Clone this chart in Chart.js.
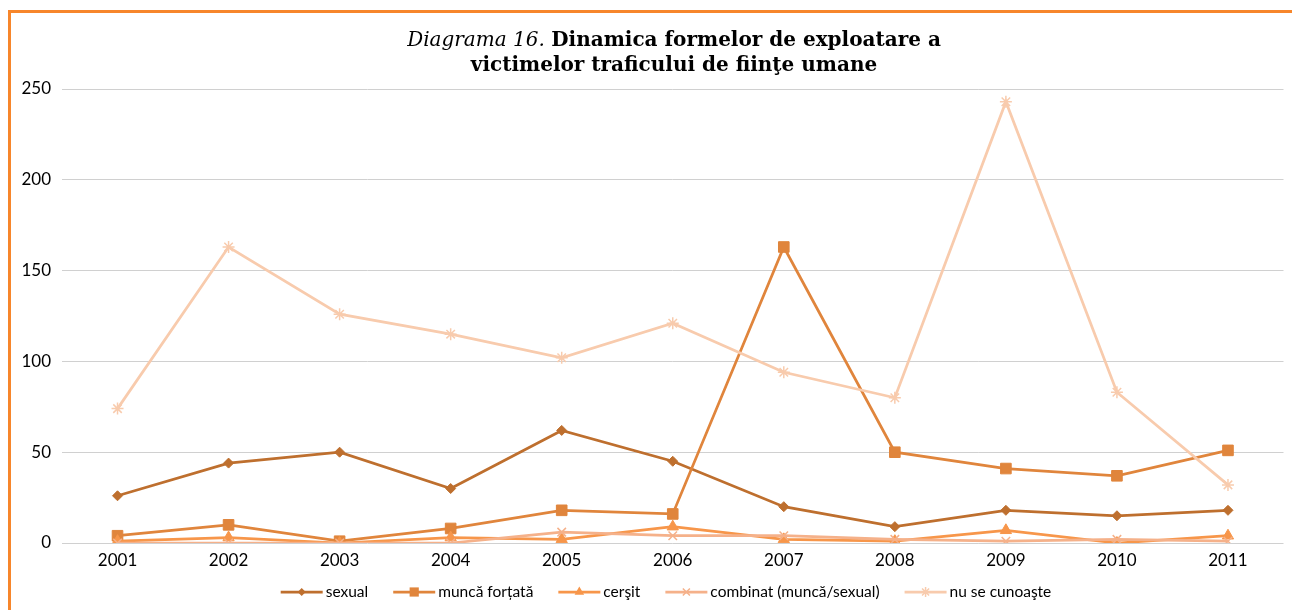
<!DOCTYPE html>
<html>
<head>
<meta charset="utf-8">
<script src="https://cdn.jsdelivr.net/npm/chart.js@4/dist/chart.umd.min.js"></script>
<style>
  body { margin: 0; background: #fff; }
  #wrap { position: relative; width: 1292px; height: 610px; overflow: hidden; }
  #frame { position: absolute; left: 8px; top: 10px; width: 1300px; height: 620px;
           border-top: 3px solid #F7862B; border-left: 3px solid #F7862B; }
  #title { position: absolute; left: 0; top: 27px; width: 1348px; text-align: center;
           font-family: "DejaVu Serif", serif; font-size: 20px; line-height: 25px; color: #000; }
  #title i { font-weight: normal; }
  #title b { font-weight: bold; }
  canvas { position: absolute; left: 0; top: 0; }
</style>
</head>
<body>
<div id="wrap">
  <div id="frame"></div>
  <canvas id="chart" width="1292" height="610"></canvas>
  <div id="title"><i>Diagrama 16.</i> <b>Dinamica formelor de exploatare a<br>victimelor traficului de fiinţe umane</b></div>
</div>
<script>
const years = ['2001','2002','2003','2004','2005','2006','2007','2008','2009','2010','2011'];
const sexual = [26, 44, 50, 30, 62, 45, 20, 9, 18, 15, 18];
const muncaFortata = [4, 10, 1, 8, 18, 16, 163, 50, 41, 37, 51];
const cersit = [1, 3, 0, 3, 2, 9, 2, 1, 7, 0, 4];
const combinat = [0, 0, 0, 0, 6, 4, 4, 2, 1, 2, 1];
const nuSeCunoaste = [74, 163, 126, 115, 102, 121, 94, 80, 243, 83, 32];
const seriesNames = ['sexual', 'muncă forțată', 'cerşit', 'combinat (muncă/sexual)', 'nu se cunoaşte'];
const yTicks = [0, 50, 100, 150, 200, 250];

const colors = ['#BE6F2E', '#E0853C', '#F7964A', '#F5B18A', '#F8CBAD'];
const markers = ['rectRot', 'rect', 'triangle', 'crossRot', 'star'];
const radii = [5, 7.5, 6.5, 6, 6];

const seriesData = [sexual, muncaFortata, cersit, combinat, nuSeCunoaste];

const datasets = seriesData.map((d, i) => ({
  label: seriesNames[i],
  data: d,
  borderColor: colors[i],
  backgroundColor: colors[i],
  pointBackgroundColor: colors[i],
  pointBorderColor: colors[i],
  pointStyle: markers[i],
  pointRadius: radii[i],
  pointBorderWidth: (markers[i] === 'crossRot' || markers[i] === 'star') ? 1.5 : 1,
  borderWidth: 2.75,
  tension: 0,
  order: 5 - i
}));

// small legend drawn like Excel: line with marker in the middle
function drawMarker(ctx, style, x, y, r, color) {
  ctx.save();
  ctx.fillStyle = color;
  ctx.strokeStyle = color;
  ctx.lineWidth = 1.5;
  ctx.beginPath();
  if (style === 'rectRot') {
    ctx.moveTo(x, y - r); ctx.lineTo(x + r, y); ctx.lineTo(x, y + r); ctx.lineTo(x - r, y); ctx.closePath(); ctx.fill();
  } else if (style === 'rect') {
    const s = r * Math.SQRT1_2;
    ctx.rect(x - s, y - s, 2 * s, 2 * s); ctx.fill();
  } else if (style === 'triangle') {
    ctx.moveTo(x, y - r); ctx.lineTo(x + r * 0.87, y + r * 0.5); ctx.lineTo(x - r * 0.87, y + r * 0.5); ctx.closePath(); ctx.fill();
  } else {
    const s = r * Math.SQRT1_2;
    ctx.moveTo(x - s, y - s); ctx.lineTo(x + s, y + s);
    ctx.moveTo(x + s, y - s); ctx.lineTo(x - s, y + s);
    if (style === 'star') { ctx.moveTo(x, y - r); ctx.lineTo(x, y + r); ctx.moveTo(x - r, y); ctx.lineTo(x + r, y); }
    ctx.stroke();
  }
  ctx.restore();
}

const legendPlugin = {
  id: 'excelLegend',
  afterDraw(chart) {
    const ctx = chart.ctx;
    ctx.save();
    ctx.font = '15.5px Lato';
    ctx.textBaseline = 'middle';
    const lineW = 42, gap = 3, spacing = 25;
    const widths = seriesNames.map(n => lineW + gap + ctx.measureText(n).width);
    const total = widths.reduce((a, b) => a + b, 0) + spacing * (widths.length - 1);
    let x = 666 - total / 2;
    const y = 592;
    seriesNames.forEach((n, i) => {
      ctx.strokeStyle = colors[i];
      ctx.lineWidth = 2.75;
      ctx.beginPath();
      ctx.moveTo(x, y); ctx.lineTo(x + lineW, y); ctx.stroke();
      drawMarker(ctx, markers[i], x + lineW / 2, y, radii[i] - 1, colors[i]);
      ctx.fillStyle = '#000';
      ctx.fillText(n, x + lineW + gap, y);
      x += widths[i] + spacing;
    });
    ctx.restore();
  }
};

const ctx = document.getElementById('chart').getContext('2d');
const chart = new Chart(ctx, {
  type: 'line',
  data: { labels: years, datasets: datasets },
  options: {
    responsive: false,
    animation: false,
    layout: { padding: { left: 0, right: 4, top: 89, bottom: 37 } },
    plugins: {
      legend: { display: false },
      title: { display: false },
      tooltip: { enabled: false }
    },
    scales: {
      x: {
        offset: true,
        grid: { display: false, drawTicks: false },
        border: { display: false },
        ticks: { color: '#000', font: { family: 'Lato', size: 17 }, padding: 7 },
        afterFit(s) { s.height = 30; }
      },
      y: {
        min: 0,
        max: 250,
        afterBuildTicks(s) { s.ticks = yTicks.map(v => ({ value: v })); },
        grid: { color: '#D0D0D0', lineWidth: 1, drawTicks: false },
        border: { display: false },
        ticks: { color: '#000', font: { family: 'Lato', size: 17 }, padding: 11 },
        afterFit(s) { s.width = 62; }
      }
    }
  },
  plugins: [legendPlugin]
});
</script>
</body>
</html>
